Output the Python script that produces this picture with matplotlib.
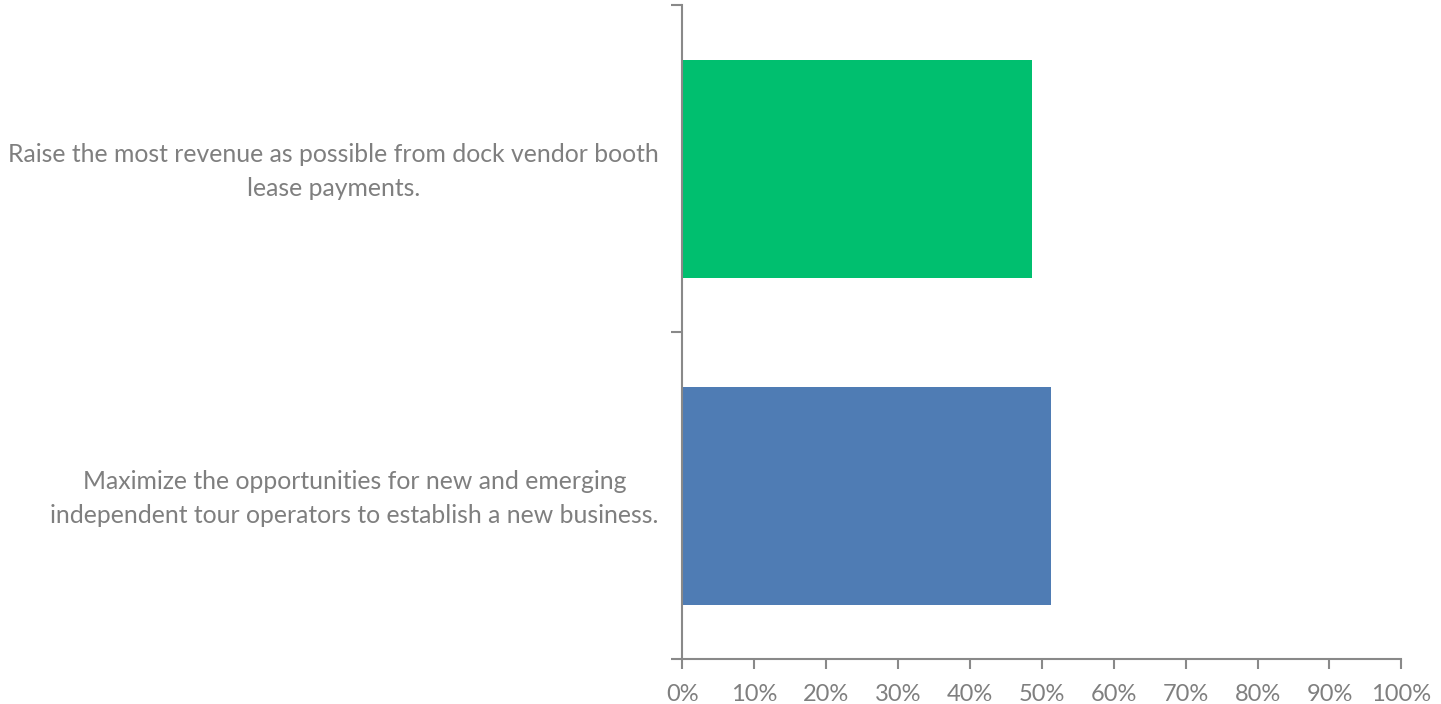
import matplotlib
matplotlib.use("Agg")
import matplotlib.pyplot as plt
import matplotlib.transforms as mtransforms
from matplotlib.ticker import FixedLocator, PercentFormatter

categories = [
    "Maximize the opportunities for new and emerging\nindependent tour operators to establish a new business.",
    "Raise the most revenue as possible from dock vendor booth\nlease payments.",
]
values = [51.3, 48.7]
colors = ["#4F7CB4", "#00BF6F"]
x_ticks = [0, 10, 20, 30, 40, 50, 60, 70, 80, 90, 100]

text_color = "#7F7F7F"
axis_color = "#898989"

plt.rcParams["font.family"] = ["Lato", "DejaVu Sans"]

fig = plt.figure(figsize=(14.41, 7.04), dpi=100)
ax = fig.add_axes([0.4735, 0.0639, 0.499, 0.9286])

positions = list(range(len(categories)))
ax.barh(positions, values, height=0.667, color=colors, zorder=2)

ax.set_xlim(0, 100)
ax.set_ylim(-0.5, len(categories) - 0.5)

for side in ("top", "right"):
    ax.spines[side].set_visible(False)
for side in ("left", "bottom"):
    ax.spines[side].set_color(axis_color)
    ax.spines[side].set_linewidth(1.5)

ax.xaxis.set_major_locator(FixedLocator(x_ticks))
ax.xaxis.set_major_formatter(PercentFormatter(decimals=0))
ax.tick_params(axis="x", which="major", length=7, width=1.5, color=axis_color,
               labelcolor=text_color, labelsize=17, pad=11)

# category boundaries carry the ticks, category centres carry the labels
ax.yaxis.set_major_locator(FixedLocator([p - 0.5 for p in positions] + [positions[-1] + 0.5]))
ax.yaxis.set_major_formatter(plt.NullFormatter())
ax.tick_params(axis="y", which="major", length=8, width=1.5, color=axis_color)
ax.yaxis.set_minor_locator(FixedLocator(positions))
ax.set_yticklabels(categories, minor=True)
ax.tick_params(axis="y", which="minor", length=0, labelcolor=text_color,
               labelsize=17.8, pad=17)
lift = mtransforms.ScaledTranslation(0, 5 / 100, fig.dpi_scale_trans)
for lbl in ax.get_yticklabels(minor=True):
    lbl.set_multialignment("center")
    lbl.set_linespacing(1.6)
    lbl.set_transform(lbl.get_transform() + lift)

fig.savefig("out.png", dpi=100, facecolor="white")
